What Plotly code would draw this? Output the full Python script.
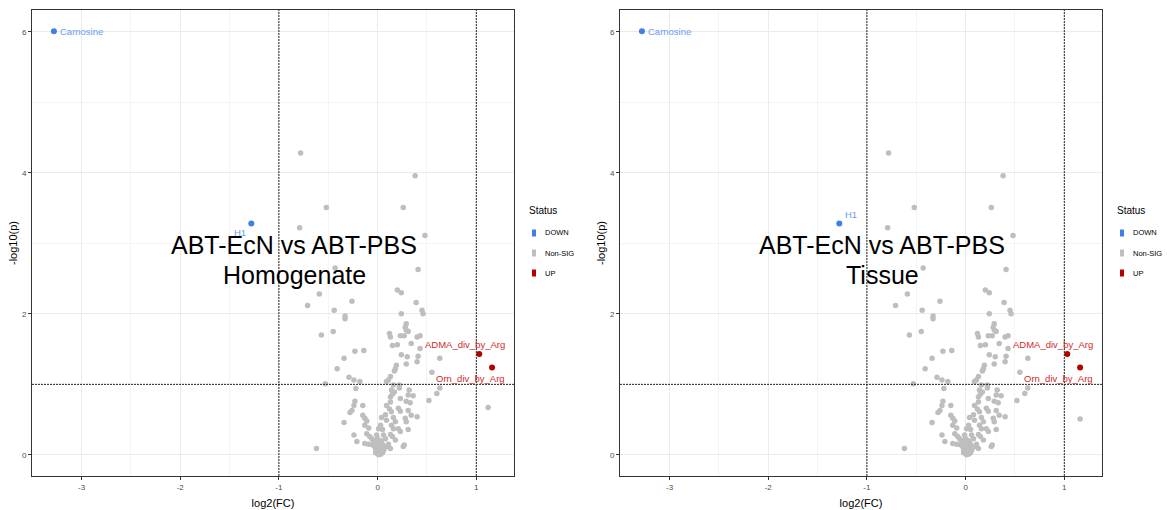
import plotly.graph_objects as go

# ---------------- data ----------------
status_levels = ["DOWN", "Non-SIG", "UP"]
status_colors = {"DOWN": "#3F7FE8", "Non-SIG": "#BEBEBE", "UP": "#B30000"}
label_colors = {"DOWN": "#6A9BF2", "UP": "#D02A2A"}

ns_x = [-0.78, 0.38, -0.52, 0.26, -0.79, 0.48, -0.43, 0.41, 0.20, 0.24,
        -0.59, -0.26, -0.71, 0.39, -0.44, 0.45, 0.46, 0.24, -0.33, -0.33,
        0.29, 0.28, 0.29, 0.31, -0.57, -0.45, 0.12, 0.13, 0.23, 0.27,
        0.40, 0.43, 0.15, 0.20, 0.34, 0.43, -0.23, -0.14, 0.24, 0.30,
        0.41, 0.40, 0.63, -0.34, 0.29, 0.19, 0.18, 0.17, -0.41, 0.55,
        -0.29, -0.24, -0.18, 0.13, 0.11, 0.09, -0.53,
        -0.22, 0.16, 0.14, 0.17, 0.15, 0.22, 0.22, 0.32, 0.31, 0.36,
        0.63, 0.60, 0.52, -0.23, -0.24, -0.15, 0.13, 0.13, 0.23, 0.29,
        0.33, -0.26, -0.28, -0.34, 0.09, 0.12, 0.14, 0.21, 0.23, 0.31,
        0.34, 0.40, -0.15, -0.13, -0.11, 0.04, 0.08, 0.09, 0.16, 0.18,
        0.28, 0.29, 0.31, -0.13, -0.09, 0.03, 0.01, 0.05, 0.14, 0.16,
        0.21, 0.23, -0.24, -0.11, -0.08, -0.06, -0.01, 0.00, 0.06, 0.08,
        0.13, 0.15, 0.18, -0.21, -0.13, -0.09, 0.09, 0.13, 0.11, 0.26,
        0.27, -0.62,
        -0.05, -0.03, -0.02, -0.01, 0.00, 0.01, 0.02, 0.03, 0.04, 0.05,
        0.06, 0.03, -0.01, 0.02, 0.07, 0.00, -0.04, 0.04, 0.01, 0.05,
        -0.02, -0.03, 0.03]
ns_y = [4.28, 3.96, 3.51, 3.51, 3.22, 3.11, 2.65, 2.63, 2.34, 2.30,
        2.28, 2.18, 2.12, 2.16, 2.05, 2.05, 2.00, 2.00, 1.97, 1.93,
        1.86, 1.81, 1.77, 1.75, 1.70, 1.75, 1.72, 1.67, 1.69, 1.69,
        1.67, 1.69, 1.55, 1.56, 1.58, 1.51, 1.47, 1.48, 1.42, 1.39,
        1.40, 1.32, 1.37, 1.37, 1.29, 1.27, 1.22, 1.19, 1.22, 1.17,
        1.10, 1.06, 1.04, 1.11, 1.06, 1.04, 1.01,
        0.94, 0.99, 0.92, 0.89, 0.86, 0.99, 0.95, 0.92, 0.85, 0.84,
        0.95, 0.87, 0.77, 0.76, 0.70, 0.70, 0.82, 0.75, 0.80, 0.76,
        0.74, 0.63, 0.60, 0.46, 0.70, 0.65, 0.61, 0.66, 0.62, 0.63,
        0.56, 0.54, 0.56, 0.52, 0.48, 0.53, 0.57, 0.49, 0.53, 0.47,
        0.52, 0.47, 0.36, 0.42, 0.38, 0.42, 0.37, 0.36, 0.42, 0.37,
        0.37, 0.33, 0.28, 0.30, 0.26, 0.23, 0.28, 0.23, 0.28, 0.23,
        0.29, 0.26, 0.21, 0.19, 0.16, 0.15, 0.12, 0.09, 0.15, 0.12,
        0.14, 0.09,
        0.14, 0.12, 0.08, 0.05, 0.02, 0.00, 0.04, 0.08, 0.11, 0.14,
        0.06, 0.01, 0.10, 0.13, 0.10, 0.16, 0.19, 0.18, 0.07, 0.03,
        0.03, 0.20, 0.20]

# one non-significant point that differs between the two panels
ns_extra_x = [1.12, 1.16]     # [Homogenate, Tissue]
ns_extra_y = [0.67, 0.51]

down_names = ["Carnosine", "H1"]
down_x = [-3.28, -1.28]
down_y = [6.01, 3.28]

up_names = ["ADMA_div_by_Arg", "Orn_div_by_Arg"]
up_x = [1.03, 1.16]
up_y = [1.43, 1.24]

x_ticks = [-3, -2, -1, 0, 1]
y_ticks = [0, 2, 4, 6]
fc_cut = [-1, 1]
p_cut = 1

panel_titles = [["ABT-EcN vs ABT-PBS", "Homogenate"], ["ABT-EcN vs ABT-PBS", "Tissue"]]

# ---------------- layout helpers ----------------
W, H = 1167, 510
panels_px = [(32, 514), (620, 1102)]   # left/right pixel edges of panels
top_px, bot_px = 10, 476
GG_FONT = "Liberation Sans, Arial, sans-serif"

fig = go.Figure()

# label placement (pixel offsets) per panel: (xanchor, xshift, yshift)
lab_off = [
    {"Carnosine": ("left", 4, 0), "H1": ("right", -3, -9),
     "ADMA_div_by_Arg": ("right", 28, 10), "Orn_div_by_Arg": ("right", 15, -11)},
    {"Carnosine": ("left", 4, 0), "H1": ("left", 4, 9),
     "ADMA_div_by_Arg": ("right", 28, 10), "Orn_div_by_Arg": ("right", 15, -11)},
]

annotations = []
shapes = []

for i in range(2):
    xa = "x" if i == 0 else "x2"
    ya = "y" if i == 0 else "y2"
    fig.add_trace(go.Scatter(
        x=ns_x + [ns_extra_x[i]], y=ns_y + [ns_extra_y[i]], mode="markers",
        marker=dict(color=status_colors["Non-SIG"], size=5.5, line=dict(width=0)),
        xaxis=xa, yaxis=ya, showlegend=False, name="Non-SIG"))
    fig.add_trace(go.Scatter(
        x=down_x, y=down_y, mode="markers",
        marker=dict(color=status_colors["DOWN"], size=6, line=dict(width=0)),
        xaxis=xa, yaxis=ya, showlegend=False, name="DOWN"))
    fig.add_trace(go.Scatter(
        x=up_x, y=up_y, mode="markers",
        marker=dict(color=status_colors["UP"], size=6, line=dict(width=0)),
        xaxis=xa, yaxis=ya, showlegend=False, name="UP"))

    # point labels
    for names, xs, ys, st in [(down_names, down_x, down_y, "DOWN"), (up_names, up_x, up_y, "UP")]:
        for n, px, py in zip(names, xs, ys):
            anc, xs_, ys_ = lab_off[i][n]
            annotations.append(dict(
                x=px, y=py, xref=xa, yref=ya, text=n, showarrow=False,
                xanchor=anc, yanchor="middle", xshift=xs_, yshift=ys_,
                font=dict(family=GG_FONT, size=9.5, color=label_colors[st])))

    # threshold lines
    for fc in fc_cut:
        shapes.append(dict(type="line", xref=xa, yref=ya + " domain", x0=fc, x1=fc, y0=0, y1=1,
                           line=dict(color="#222222", width=1, dash="2px,1px")))
    shapes.append(dict(type="line", xref=xa + " domain", yref=ya, x0=0, x1=1, y0=p_cut, y1=p_cut,
                       line=dict(color="#222222", width=1, dash="2px,1px")))

    # overlay titles
    l, r = panels_px[i]
    cx = (l + r) / 2 + 21
    for line_txt, cy in zip(panel_titles[i], [245, 275]):
        annotations.append(dict(
            x=cx / W, y=1 - cy / H, xref="paper", yref="paper", text=line_txt,
            showarrow=False, xanchor="center", yanchor="middle",
            font=dict(family="Liberation Sans, Arial", size=25, color="black")))

    # manual legend
    lx = r
    annotations.append(dict(
        x=(lx + 13) / W, y=1 - 210 / H, xref="paper", yref="paper", text="Status",
        showarrow=False, xanchor="left", yanchor="middle",
        font=dict(family=GG_FONT, size=10, color="black")))
    for k, st in enumerate(status_levels):
        cy = 233 + 20 * k
        shapes.append(dict(type="rect", xref="paper", yref="paper",
                           x0=(lx + 18) / W, x1=(lx + 22) / W,
                           y0=1 - (cy + 3.5) / H, y1=1 - (cy - 3.5) / H,
                           fillcolor=status_colors[st], line=dict(width=0)))
        annotations.append(dict(
            x=(lx + 29) / W, y=1 - cy / H, xref="paper", yref="paper", text=st,
            showarrow=False, xanchor="left", yanchor="middle",
            font=dict(family=GG_FONT, size=7.5, color="black")))

axis_common = dict(
    showline=True, mirror=True, linecolor="#333333", linewidth=1,
    ticks="outside", ticklen=3, tickcolor="#333333", tickwidth=1,
    tickfont=dict(family=GG_FONT, size=8, color="#4D4D4D"),
    showgrid=True, gridcolor="#EBEBEB", gridwidth=1, zeroline=False,
    automargin=False,
)

for i in range(2):
    l, r = panels_px[i]
    xkey = "xaxis" if i == 0 else "xaxis2"
    ykey = "yaxis" if i == 0 else "yaxis2"
    xa_anchor = "y" if i == 0 else "y2"
    ya_anchor = "x" if i == 0 else "x2"
    fig.layout[xkey] = dict(
        axis_common, domain=[l / W, r / W], range=[-3.502, 1.382], anchor=xa_anchor,
        tickvals=x_ticks, ticktext=[str(t) for t in x_ticks],
        minor=dict(tickvals=[-3.5, -2.5, -1.5, -0.5, 0.5], showgrid=True,
                   gridcolor="#F4F4F4", gridwidth=0.6, ticks=""),
        title=dict(text="log2(FC)", font=dict(family=GG_FONT, size=11, color="black"), standoff=8),
    )
    fig.layout[ykey] = dict(
        axis_common, domain=[1 - bot_px / H, 1 - top_px / H], range=[-0.3, 6.31], anchor=ya_anchor,
        tickvals=y_ticks, ticktext=[str(t) for t in y_ticks],
        minor=dict(tickvals=[1, 3, 5], showgrid=True, gridcolor="#F4F4F4", gridwidth=0.6, ticks=""),
        title=dict(text="-log10(p)", font=dict(family=GG_FONT, size=11, color="black"), standoff=2),
    )

fig.update_layout(
    width=W, height=H, margin=dict(l=0, r=0, t=0, b=0, autoexpand=False),
    paper_bgcolor="white", plot_bgcolor="white",
    annotations=annotations, shapes=shapes, showlegend=False,
)

# remove the browser's default 8px page margin so the figure sits at the window origin
fig.write_html("out.html", config={"displayModeBar": False},
               post_script="document.body.style.margin='0px';")
